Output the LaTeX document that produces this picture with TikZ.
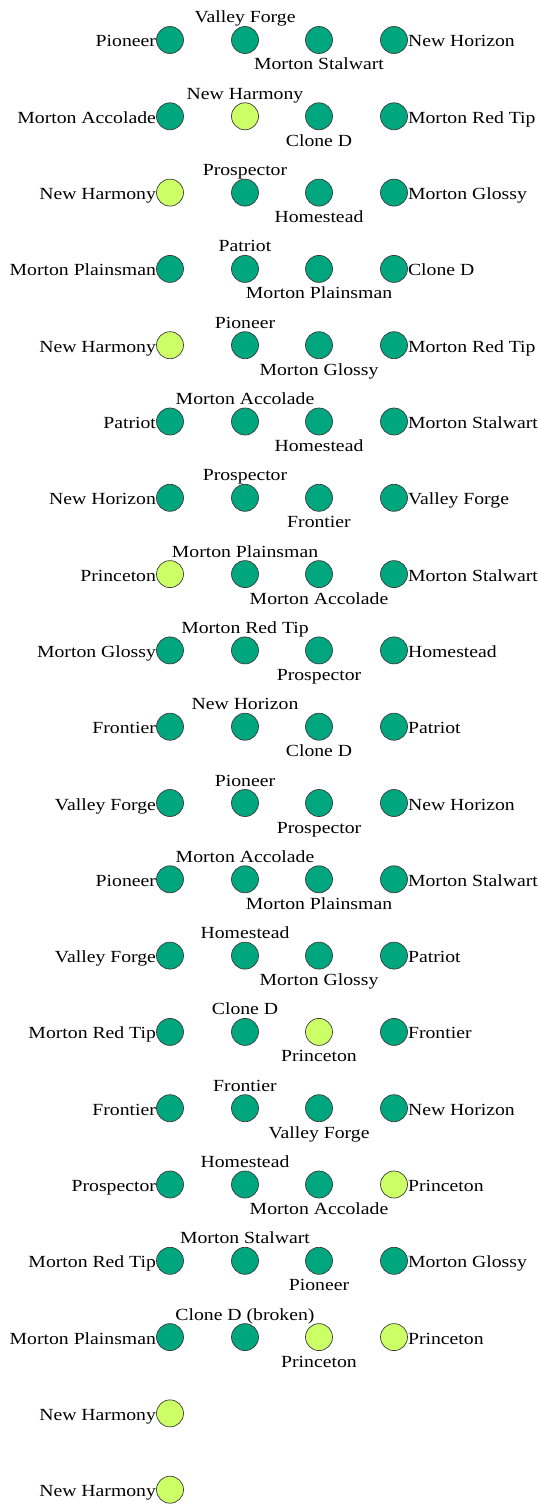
\documentclass[tikz,border=0pt]{standalone}
\usepackage{fontspec}
\setmainfont[FakeStretch=1.16]{Liberation Serif}
\definecolor{dkgreen}{RGB}{0,166,126}
\definecolor{ltgreen}{RGB}{204,255,102}
\definecolor{rim}{RGB}{60,60,60}
\tikzset{
  dot/.style={circle, draw=rim, line width=0.7pt, minimum size=27pt, inner sep=0pt},
  dk/.style={dot, fill=dkgreen},
  lt/.style={dot, fill=ltgreen},
  lbl/.style={inner sep=0pt, font=\fontsize{17}{20}\selectfont, text=black}
}
\begin{document}
\begin{tikzpicture}[x=1pt,y=1pt]
\useasboundingbox (0,0) rectangle (539,-1504);
\foreach \r/\sa/\ta/\sb/\tb/\sc/\tc/\sd/\td in {
 1/dk/Pioneer/dk/Valley Forge/dk/Morton Stalwart/dk/New Horizon,
 2/dk/Morton Accolade/lt/New Harmony/dk/Clone D/dk/Morton Red Tip,
 3/lt/New Harmony/dk/Prospector/dk/Homestead/dk/Morton Glossy,
 4/dk/Morton Plainsman/dk/Patriot/dk/Morton Plainsman/dk/Clone D,
 5/lt/New Harmony/dk/Pioneer/dk/Morton Glossy/dk/Morton Red Tip,
 6/dk/Patriot/dk/Morton Accolade/dk/Homestead/dk/Morton Stalwart,
 7/dk/New Horizon/dk/Prospector/dk/Frontier/dk/Valley Forge,
 8/lt/Princeton/dk/Morton Plainsman/dk/Morton Accolade/dk/Morton Stalwart,
 9/dk/Morton Glossy/dk/Morton Red Tip/dk/Prospector/dk/Homestead,
 10/dk/Frontier/dk/New Horizon/dk/Clone D/dk/Patriot,
 11/dk/Valley Forge/dk/Pioneer/dk/Prospector/dk/New Horizon,
 12/dk/Pioneer/dk/Morton Accolade/dk/Morton Plainsman/dk/Morton Stalwart,
 13/dk/Valley Forge/dk/Homestead/dk/Morton Glossy/dk/Patriot,
 14/dk/Morton Red Tip/dk/Clone D/lt/Princeton/dk/Frontier,
 15/dk/Frontier/dk/Frontier/dk/Valley Forge/dk/New Horizon,
 16/dk/Prospector/dk/Homestead/dk/Morton Accolade/lt/Princeton,
 17/dk/Morton Red Tip/dk/Morton Stalwart/dk/Pioneer/dk/Morton Glossy,
 18/dk/Morton Plainsman/dk/Clone D (broken)/lt/Princeton/lt/Princeton}
{
  \pgfmathsetmacro{\yy}{-40-(\r-1)*76.3}
  \node[\sa] (r\r a) at (170,\yy) {};
  \node[\sb] (r\r b) at (245,\yy) {};
  \node[\sc] (r\r c) at (319,\yy) {};
  \node[\sd] (r\r d) at (394,\yy) {};
  \node[lbl, anchor=base east] (t\r a) at ([yshift=-7pt]r\r a.west) {\ta};
  \node[lbl, anchor=base] (t\r b) at ([yshift=17pt]r\r b.center) {\tb};
  \node[lbl, anchor=base] (t\r c) at ([yshift=-30pt]r\r c.center) {\tc};
  \node[lbl, anchor=base west] (t\r d) at ([yshift=-7pt]r\r d.east) {\td};
}
\node[lt] (r19a) at (170,-1413.4) {};
\node[lbl, anchor=base east] (t19a) at ([yshift=-7pt]r19a.west) {New Harmony};
\node[lt] (r20a) at (170,-1489.7) {};
\node[lbl, anchor=base east] (t20a) at ([yshift=-7pt]r20a.west) {New Harmony};
\end{tikzpicture}
\end{document}
